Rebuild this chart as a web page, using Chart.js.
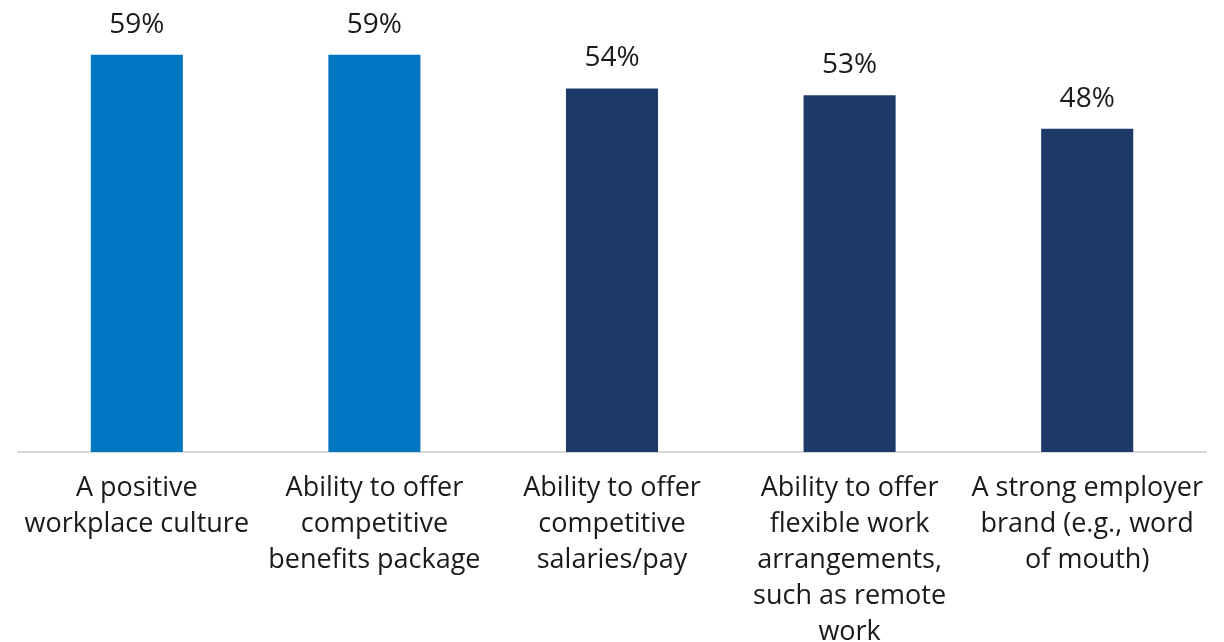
<!DOCTYPE html>
<html>
<head>
<meta charset="utf-8">
<script src="https://cdn.jsdelivr.net/npm/chart.js@4"></script>
<style>
  html, body { margin: 0; padding: 0; background: #fff; }
  #wrap { width: 1224px; height: 642px; }
</style>
</head>
<body>
<div id="wrap"><canvas id="myChart"></canvas></div>
<script>
var categories = [
  ['A positive', 'workplace culture'],
  ['Ability to offer', 'competitive', 'benefits package'],
  ['Ability to offer', 'competitive', 'salaries/pay'],
  ['Ability to offer', 'flexible work', 'arrangements,', 'such as remote', 'work'],
  ['A strong employer', 'brand (e.g., word', 'of mouth)']
];
var values = [59, 59, 54, 53, 48];
var barColors = ['#0077c0', '#0077c0', '#1e3a68', '#1e3a68', '#1e3a68'];

// draws the % label above each bar
var valueLabels = {
  id: 'valueLabels',
  afterDatasetsDraw: function(chart) {
    var ctx = chart.ctx;
    var meta = chart.getDatasetMeta(0);
    ctx.save();
    ctx.font = '28px "Open Sans"';
    ctx.fillStyle = '#1a1a1a';
    ctx.textAlign = 'center';
    ctx.textBaseline = 'alphabetic';
    meta.data.forEach(function(bar, i) {
      ctx.fillText(values[i] + '%', bar.x, bar.y - 22);
    });
    ctx.restore();
  }
};

var ctx = document.getElementById('myChart').getContext('2d');
var myChart = new Chart(ctx, {
  type: 'bar',
  data: {
    labels: categories,
    datasets: [{
      data: values,
      backgroundColor: barColors,
      barPercentage: 0.775,
      categoryPercentage: 0.5
    }]
  },
  options: {
    responsive: true,
    maintainAspectRatio: false,
    animation: false,
    layout: {
      padding: { left: 18, right: 18, top: 48, bottom: -26 }
    },
    plugins: {
      legend: { display: false },
      tooltip: { enabled: false }
    },
    scales: {
      x: {
        grid: { display: false, drawTicks: false },
        border: { display: true, color: '#d9d9d9', width: 2 },
        ticks: {
          color: '#1a1a1a',
          font: { family: '"Open Sans"', size: 27, lineHeight: 1.333 },
          padding: 18,
          maxRotation: 0,
          autoSkip: false
        }
      },
      y: {
        display: false,
        min: 0,
        max: 60
      }
    }
  },
  plugins: [valueLabels]
});
</script>
</body>
</html>
